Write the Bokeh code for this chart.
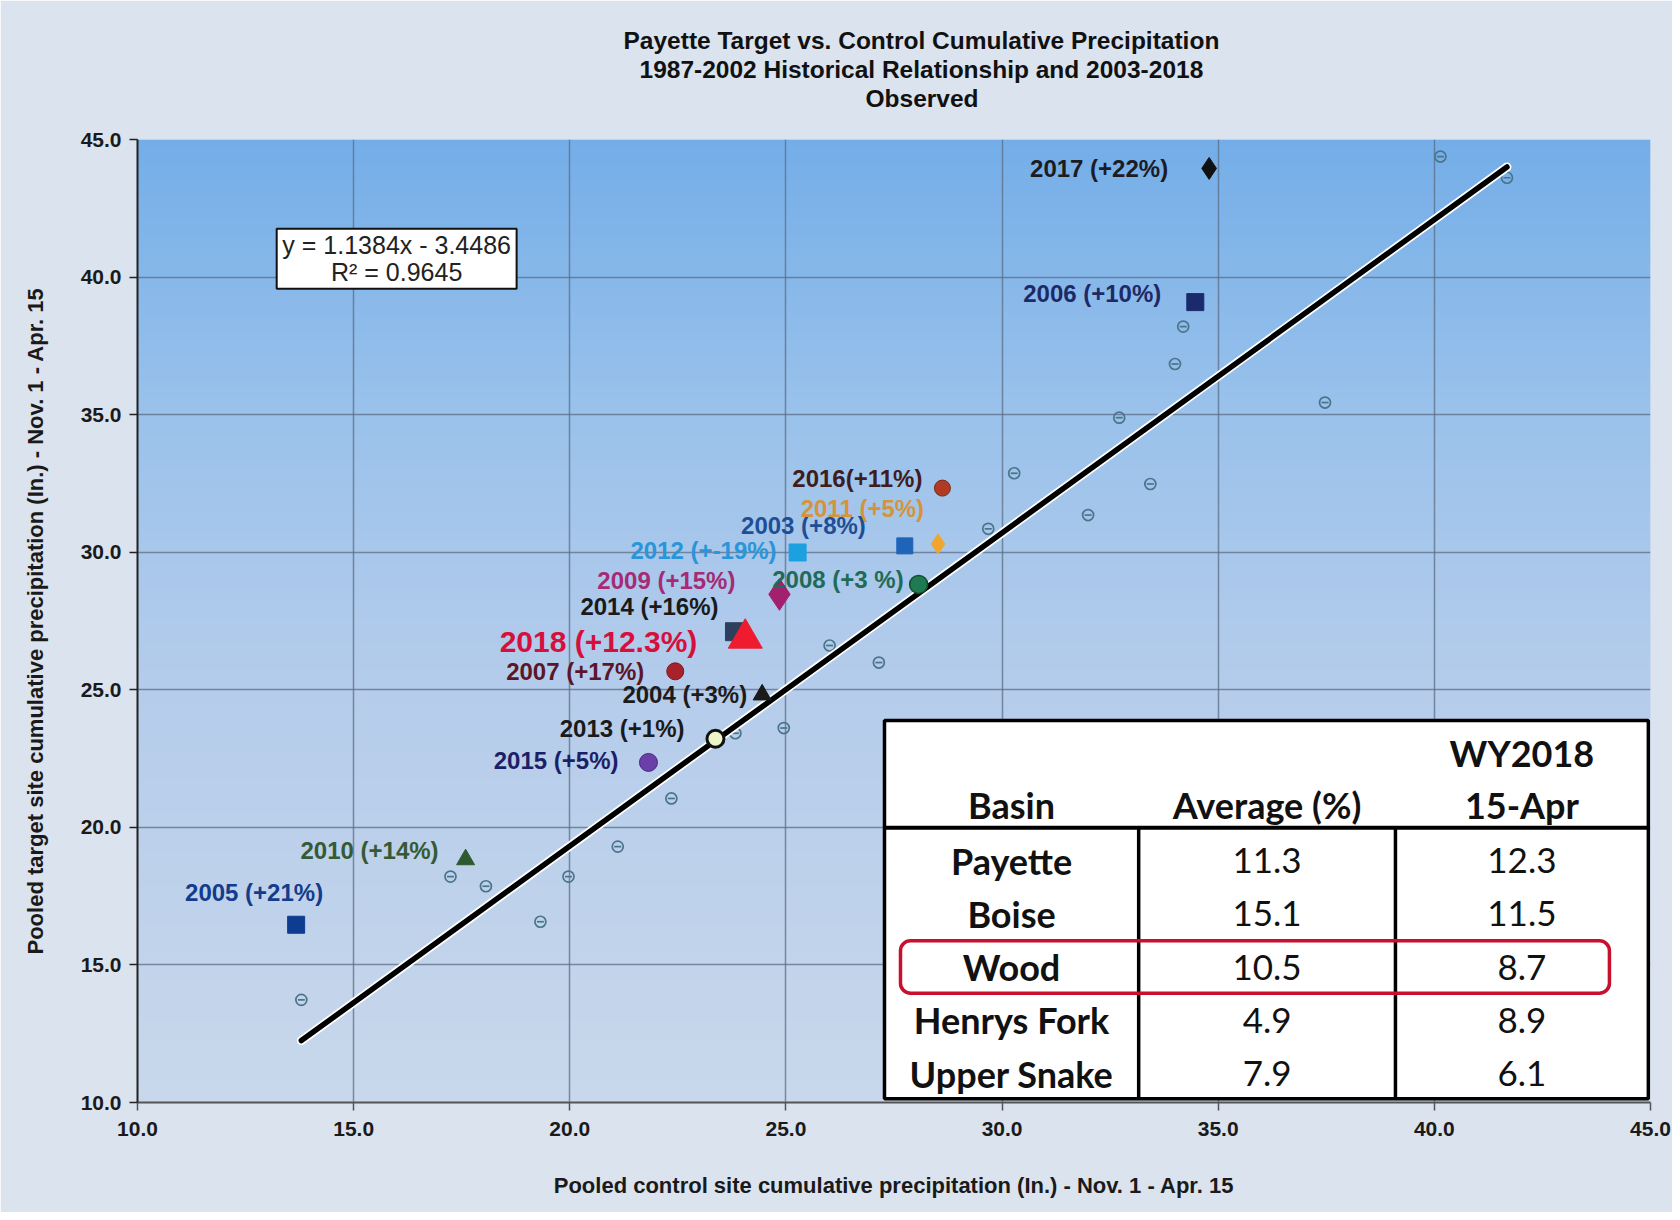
import numpy as np
from bokeh.plotting import figure
from bokeh.models import ColumnDataSource, Range1d, FixedTicker, NumeralTickFormatter, BoxAnnotation, Title
from bokeh.core.properties import value
from bokeh.embed import file_html
from bokeh.resources import INLINE

# ---------------- data ----------------
hist_x = [13.79, 17.24, 18.06, 19.32, 19.97, 21.11, 22.35, 23.83, 24.95, 26.01, 27.15,
          29.68, 30.28, 31.99, 32.71, 33.43, 34.00, 34.19, 37.47, 40.14, 41.68]
hist_y = [13.73, 18.21, 17.86, 16.57, 18.21, 19.30, 21.05, 23.42, 23.61, 26.61, 25.99,
          30.85, 32.87, 31.35, 34.89, 32.48, 36.84, 38.20, 35.44, 44.38, 43.61]

years = ["2003", "2004", "2005", "2006", "2007", "2008", "2009", "2010",
         "2011", "2012", "2013", "2014", "2015", "2016", "2017", "2018"]
obs_x = [27.75, 24.45, 13.67, 34.47, 22.44, 28.07, 24.85, 17.59,
         28.52, 25.27, 23.37, 23.81, 21.82, 28.62, 34.79, 24.06]
obs_y = [30.23, 24.82, 16.46, 39.09, 25.67, 28.83, 28.47, 18.83,
         30.30, 29.99, 23.22, 27.11, 22.36, 32.33, 43.95, 26.87]
obs_labels = ["2003 (+8%)", "2004 (+3%)", "2005 (+21%)", "2006 (+10%)", "2007 (+17%)",
              "2008 (+3 %)", "2009 (+15%)", "2010 (+14%)", "2011 (+5%)", "2012 (+-19%)",
              "2013 (+1%)", "2014 (+16%)", "2015 (+5%)", "2016(+11%)", "2017 (+22%)",
              "2018 (+12.3%)"]

slope = 1.1384
intercept = -3.4486
r_squared = 0.9645

basins = ["Payette", "Boise", "Wood", "Henrys Fork", "Upper Snake"]
avg_pct = ["11.3", "15.1", "10.5", "4.9", "7.9"]
wy2018 = ["12.3", "11.5", "8.7", "8.9", "6.1"]
table_head = ["Basin", "Average (%)", "15-Apr"]
table_head_top = "WY2018"

title_lines = ["Payette Target vs. Control Cumulative Precipitation",
               "1987-2002 Historical Relationship and 2003-2018",
               "Observed"]

ticks = [10, 15, 20, 25, 30, 35, 40, 45]

# ---------------- styles ----------------
markers = ["square", "triangle", "square", "square", "circle", "circle", "diamond", "triangle",
           "diamond", "square", "circle", "square", "circle", "circle", "diamond", "triangle"]
msizes = [16, 18, 17, 17, 17, 18, 32, 18, 20, 17, 17, 18, 18, 16, 22, 34]
mfill = ["#1e64b8", "#1a1a1a", "#0e3c90", "#1a2a6c", "#a8222c", "#1e7a50", "#a3206e", "#2f5a30",
         "#f0a530", "#1ca0e0", "#eef5c8", "#2e3f5e", "#6b3fa8", "#b03a22", "#111111", "#ee1c2e"]
mline = ["#1e64b8", "#1a1a1a", "#0e3c90", "#1a2a6c", "#7a1a20", "#10502f", "#a3206e", "#2f5a30",
         "#f0a530", "#1ca0e0", "#111111", "#2e3f5e", "#4a2a80", "#7a2a18", "#111111", "#ee1c2e"]
mline_w = [1, 1, 1, 1, 1, 1.5, 1, 1, 1, 1, 3, 1, 1, 1, 1, 1]
lcolors = ["#1f4e96", "#1c1c1c", "#133c8c", "#1e2a66", "#5b1628", "#1f6b58", "#a62a75", "#355a35",
           "#d4943a", "#2a95d8", "#1a1a1a", "#1a1a1a", "#1d1f66", "#3e1d1d", "#1c1c24", "#d6103c"]
ldx = [-39, -15, 27, -34, -31, -15, -44, -27, -14, -21, -31, -16, -30, -20, -41, -48]
ldy = [-20, 0, -32, -9, 0, -5, -14, -9, -35, -2, -10, -25, -2, -10, 0, 3]
lsize = ["24px"] * 15 + ["30px"]

LABEL_FONT = "Liberation Sans"
TABLE_FONT = "Lato"

X0, X1 = ticks[0], ticks[-1]
Y0, Y1 = ticks[0], ticks[-1]

p = figure(width=1672, height=1212, x_range=Range1d(X0, X1), y_range=Range1d(Y0, Y1),
           output_backend="svg", toolbar_location=None,
           min_border_left=137, min_border_right=22, min_border_top=139, min_border_bottom=110)
p.border_fill_color = "#dae3ee"
p.background_fill_color = "#b8cfeb"
p.outline_line_color = None

# background gradient of the plotting area
stops_pos = [0.0, 0.45, 0.72, 1.0]
stops_rgb = [(0xc9, 0xd8, 0xec), (0xb4, 0xcc, 0xeb), (0x9a, 0xc2, 0xec), (0x74, 0xae, 0xe8)]
N = 400
t = np.linspace(0, 1, N)
rr = np.interp(t, stops_pos, [c[0] for c in stops_rgb])
gg = np.interp(t, stops_pos, [c[1] for c in stops_rgb])
bb = np.interp(t, stops_pos, [c[2] for c in stops_rgb])
img = np.zeros((N, 1), dtype=np.uint32)
view = img.view(dtype=np.uint8).reshape((N, 1, 4))
view[:, 0, 0] = rr.astype(np.uint8)
view[:, 0, 1] = gg.astype(np.uint8)
view[:, 0, 2] = bb.astype(np.uint8)
view[:, 0, 3] = 255
bg = p.image_rgba(image=[img], x=X0, y=Y0, dw=X1 - X0, dh=Y1 - Y0)
bg.level = "image"

# axes and grid
for ax in (p.xaxis[0], p.yaxis[0]):
    ax.ticker = FixedTicker(ticks=ticks)
    ax.formatter = NumeralTickFormatter(format="0.0")
    ax.major_label_text_font = LABEL_FONT
    ax.major_label_text_font_style = "bold"
    ax.major_label_text_font_size = "21px"
    ax.major_label_text_color = "#1a1a1a"
    ax.axis_line_width = 2
    ax.major_tick_out = 8
    ax.major_tick_in = 0
    ax.major_tick_line_width = 1.5
    ax.minor_tick_line_color = None
    ax.axis_label_text_font = LABEL_FONT
    ax.axis_label_text_font_style = "bold"
    ax.axis_label_text_font_size = "22px"
    ax.axis_label_text_color = "#1a1a1a"
p.xaxis.axis_line_color = "#555555"
p.xaxis.major_tick_line_color = "#555555"
p.yaxis.axis_line_color = "#222222"
p.yaxis.major_tick_line_color = "#222222"
p.xaxis.major_label_standoff = 11
p.yaxis.major_label_standoff = 8
p.xaxis.axis_label = "Pooled control site cumulative precipitation (In.) - Nov. 1 - Apr. 15"
p.yaxis.axis_label = "Pooled target site cumulative precipitation (In.) - Nov. 1 - Apr. 15"
p.xaxis.axis_label_standoff = 34
p.yaxis.axis_label_standoff = 30
p.grid.ticker = FixedTicker(ticks=ticks)
p.grid.grid_line_color = "#5c6e86"
p.grid.grid_line_alpha = 0.75
p.grid.grid_line_width = 1.5

# title: three lines, each placed from the left edge of the plotting area
TITLE_OFFSETS = [486, 502, 728]


def style_title(tt, offset, standoff):
    tt.align = "left"
    tt.offset = offset
    tt.text_font = LABEL_FONT
    tt.text_font_style = "bold"
    tt.text_font_size = "24.5px"
    tt.text_color = "#111111"
    tt.standoff = standoff


# p.title is outermost; titles added later stack further from the frame
p.title.text = title_lines[0]
style_title(p.title, TITLE_OFFSETS[0], 0)
gap = Title(text=" ", text_font_size="11px", standoff=14)   # empty band above the frame
p.add_layout(gap, "above")
for i in (2, 1):
    tt = Title(text=title_lines[i])
    style_title(tt, TITLE_OFFSETS[i], 0)
    p.add_layout(tt, "above")

# historical points
hsrc = ColumnDataSource(dict(x=hist_x, y=hist_y))
p.scatter("x", "y", source=hsrc, marker="circle", size=11, fill_alpha=0,
          line_color="#4a7489", line_width=1.7)
p.scatter("x", "y", source=hsrc, marker="dash", size=7, line_color="#4a7489", line_width=1.7)

# regression line
rx = np.array([min(hist_x), max(hist_x)])
ry = slope * rx + intercept
p.line(rx, ry, line_color="white", line_width=9, line_cap="round")
p.line(rx, ry, line_color="black", line_width=5.5, line_cap="round")

# observed years
osrc = ColumnDataSource(dict(x=obs_x, y=obs_y, label=obs_labels, marker=markers, size=msizes,
                             fill=mfill, line=mline, lw=mline_w, lc=lcolors, dx=ldx, dy=ldy,
                             fs=lsize))
p.scatter("x", "y", source=osrc, marker="marker", size="size", fill_color="fill",
          line_color="line", line_width="lw")
p.text("x", "y", text="label", source=osrc, x_offset="dx", y_offset="dy",
       text_align="right", text_baseline="middle", text_color="lc",
       text_font=value(LABEL_FONT), text_font_style="bold", text_font_size="fs")

# equation box
EQ_L, EQ_R, EQ_T, EQ_B = 13.22, 18.77, 41.76, 39.58
p.quad(left=[EQ_L], right=[EQ_R], top=[EQ_T], bottom=[EQ_B], fill_color="white",
       line_color="#111111", line_width=2)
eq_lines = [f"y = {slope}x - {abs(intercept)}", f"R\u00b2 = {r_squared}"]
p.text(x=[(EQ_L + EQ_R) / 2] * 2, y=[41.15, 40.20], text=eq_lines, text_align="center",
       text_baseline="middle", text_color="#222222", text_font=value(LABEL_FONT),
       text_font_size="25px")

# table
T_L, T_R, T_T, T_H, T_B = 27.28, 44.95, 23.88, 19.99, 10.14
COLS = [27.28, 33.16, 39.10, 44.95]
ROW0, ROW_STEP = 18.79, 1.935
p.quad(left=[T_L], right=[T_R], top=[T_T], bottom=[T_B], fill_color="white",
       line_color="black", line_width=3.5)
p.segment(x0=[T_L], y0=[T_H], x1=[T_R], y1=[T_H], line_color="black", line_width=4)
p.segment(x0=COLS[1:3], y0=[T_H] * 2, x1=COLS[1:3], y1=[T_B] * 2, line_color="black",
          line_width=3.5)
col_c = [(COLS[i] + COLS[i + 1]) / 2 for i in range(3)]
row_y = [ROW0 - ROW_STEP * i for i in range(len(basins))]
p.text(x=col_c, y=[20.83] * 3, text=table_head, text_align="center", text_baseline="middle",
       text_color="#111111", text_font=value(TABLE_FONT), text_font_style="bold",
       text_font_size="36px")
p.text(x=[col_c[2]], y=[22.72], text=[table_head_top], text_align="center",
       text_baseline="middle", text_color="#111111", text_font=value(TABLE_FONT),
       text_font_style="bold", text_font_size="36px")
p.text(x=[col_c[0]] * len(basins), y=row_y, text=basins, text_align="center",
       text_baseline="middle", text_color="#111111", text_font=value(TABLE_FONT),
       text_font_style="bold", text_font_size="36px")
p.text(x=[col_c[1]] * len(basins), y=row_y, text=avg_pct, text_align="center",
       text_baseline="middle", text_color="#111111", text_font=value(TABLE_FONT),
       text_font_size="35px")
p.text(x=[col_c[2]] * len(basins), y=row_y, text=wy2018, text_align="center",
       text_baseline="middle", text_color="#111111", text_font=value(TABLE_FONT),
       text_font_size="35px")

# highlight of the Wood row
wood = basins.index("Wood")
hl = BoxAnnotation(left=27.65, right=44.05, top=row_y[wood] + 0.96, bottom=row_y[wood] - 0.95,
                   fill_alpha=0, line_color="#c8102e", line_alpha=1.0, line_width=3.5,
                   border_radius=10)
p.add_layout(hl)

open("out.html", "w").write(file_html(p, INLINE))
